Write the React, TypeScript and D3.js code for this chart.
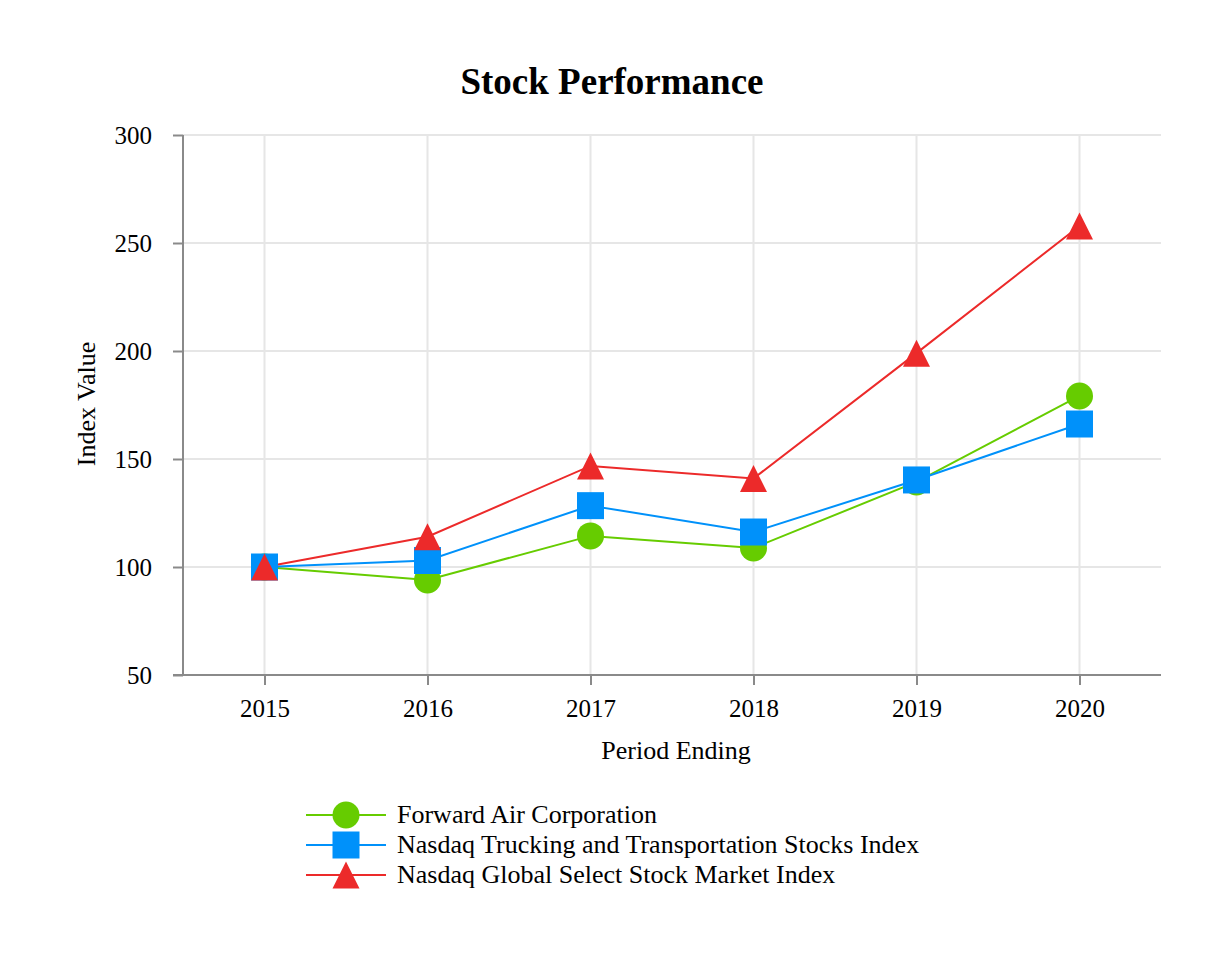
import React, { useEffect, useRef } from 'react';
import * as d3 from 'd3';

const years = ['2015', '2016', '2017', '2018', '2019', '2020'];
const forwardAir = [100, 94, 114.4, 108.8, 139.4, 179.2];
const nasdaqTrucking = [100, 103, 128.4, 116.2, 140.3, 166.2];
const nasdaqGlobal = [100, 114, 146.8, 141, 199, 257.9];
const yTicks = [50, 100, 150, 200, 250, 300];

const seriesNames = [
  'Forward Air Corporation',
  'Nasdaq Trucking and Transportation Stocks Index',
  'Nasdaq Global Select Stock Market Index',
];
const seriesColors = ['#66cc00', '#0091fa', '#ec2a2a'];
const seriesShapes = ['circle', 'square', 'triangle'];

const width = 1226;
const height = 960;
const margin = { top: 135, right: 65, bottom: 285, left: 183 };
const font = '"Liberation Serif", "Times New Roman", serif';

const marker = (shape: string, s: number) => {
  const h = s / 2;
  if (shape === 'circle') {
    return `M${-h},0A${h},${h} 0 1,0 ${h},0A${h},${h} 0 1,0 ${-h},0Z`;
  }
  if (shape === 'square') {
    return `M${-h},${-h}H${h}V${h}H${-h}Z`;
  }
  return `M0,${-h}L${h},${h}L${-h},${h}Z`;
};

const App = () => {
  const ref = useRef<SVGSVGElement>(null);

  useEffect(() => {
    if (!ref.current) return;
    const svg = d3.select(ref.current);
    svg.selectAll('*').remove();

    const x = d3
      .scalePoint()
      .domain(years)
      .range([margin.left, width - margin.right])
      .padding(0.5);
    const y = d3
      .scaleLinear()
      .domain([50, 300])
      .range([height - margin.bottom, margin.top]);

    svg.append('rect').attr('width', width).attr('height', height).attr('fill', '#fff');

    // grid
    const grid = svg.append('g').attr('stroke', '#e6e6e6').attr('stroke-width', 2);
    grid
      .selectAll('line.h')
      .data(yTicks.slice(1))
      .join('line')
      .attr('x1', margin.left)
      .attr('x2', width - margin.right)
      .attr('y1', (d) => y(d))
      .attr('y2', (d) => y(d));
    grid
      .selectAll('line.v')
      .data(years)
      .join('line')
      .attr('x1', (d) => x(d)!)
      .attr('x2', (d) => x(d)!)
      .attr('y1', margin.top)
      .attr('y2', height - margin.bottom);

    // axes
    const axisColor = '#8a8a8a';
    const xAxis = svg
      .append('g')
      .attr('transform', `translate(0,${height - margin.bottom})`)
      .call(d3.axisBottom(x).tickSize(10).tickPadding(14));
    xAxis.select('.domain').attr('d', `M${margin.left - 10},0H${width - margin.right}`);
    const yAxis = svg
      .append('g')
      .attr('transform', `translate(${margin.left},0)`)
      .call(d3.axisLeft(y).tickValues(yTicks).tickSize(10).tickPadding(21));
    yAxis.select('.domain').attr('d', `M0,${margin.top}V${height - margin.bottom}`);
    [xAxis, yAxis].forEach((g) => {
      g.selectAll('.domain, .tick line').attr('stroke', axisColor).attr('stroke-width', 2);
      g.selectAll('text')
        .attr('fill', '#000')
        .attr('font-family', font)
        .attr('font-size', 25);
    });

    // lines and markers
    const allSeries = [forwardAir, nasdaqTrucking, nasdaqGlobal];
    const line = d3
      .line<number>()
      .x((_, i) => x(years[i])!)
      .y((d) => y(d));
    allSeries.forEach((vals, si) => {
      svg
        .append('path')
        .attr('d', line(vals))
        .attr('fill', 'none')
        .attr('stroke', seriesColors[si])
        .attr('stroke-width', 2);
    });
    allSeries.forEach((vals, si) => {
      svg
        .append('g')
        .selectAll('path')
        .data(vals)
        .join('path')
        .attr('transform', (d, i) => `translate(${x(years[i])},${y(d)})`)
        .attr('d', marker(seriesShapes[si], 27))
        .attr('fill', seriesColors[si]);
    });

    // titles
    svg
      .append('text')
      .attr('x', 612)
      .attr('y', 94)
      .attr('text-anchor', 'middle')
      .attr('font-family', font)
      .attr('font-weight', 'bold')
      .attr('font-size', 37)
      .text('Stock Performance');
    svg
      .append('text')
      .attr('x', 676)
      .attr('y', 759)
      .attr('text-anchor', 'middle')
      .attr('font-family', font)
      .attr('font-size', 26)
      .text('Period Ending');
    svg
      .append('text')
      .attr('transform', `translate(95,404) rotate(-90)`)
      .attr('text-anchor', 'middle')
      .attr('font-family', font)
      .attr('font-size', 26)
      .text('Index Value');

    // legend
    const legend = svg
      .append('g')
      .selectAll('g')
      .data(seriesNames)
      .join('g')
      .attr('transform', (_, i) => `translate(0,${815 + i * 30})`);
    legend
      .append('line')
      .attr('x1', 306)
      .attr('x2', 386)
      .attr('stroke', (_, i) => seriesColors[i])
      .attr('stroke-width', 2);
    legend
      .append('path')
      .attr('transform', 'translate(346,0)')
      .attr('d', (_, i) => marker(seriesShapes[i], 27))
      .attr('fill', (_, i) => seriesColors[i]);
    legend
      .append('text')
      .attr('x', 397)
      .attr('y', 8)
      .attr('font-family', font)
      .attr('font-size', 26)
      .text((d) => d);
  }, []);

  return (
    <div style={{ position: 'absolute', left: 0, top: 0 }}>
      <svg ref={ref} width={width} height={height} style={{ display: 'block' }} />
    </div>
  );
};

export default App;
